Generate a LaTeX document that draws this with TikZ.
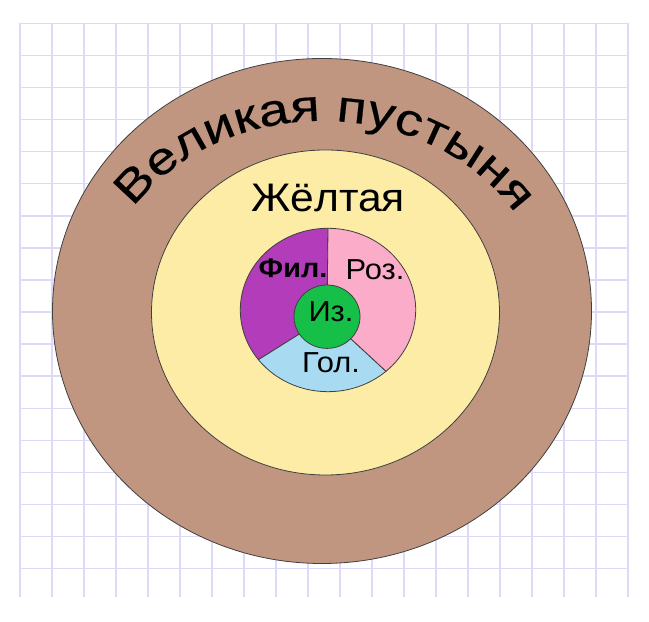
\documentclass[tikz,border=0pt]{standalone}
\usepackage{fontspec}
\setmainfont{Liberation Sans}
\newfontfamily\desertfamily[FakeStretch=1.22, FakeBold=0.4]{Liberation Sans}
\usetikzlibrary{calc, decorations.text}
\definecolor{gridblue}{RGB}{220,218,248}
\definecolor{desert}{RGB}{192,150,128}
\definecolor{yellowzone}{RGB}{253,236,166}
\definecolor{violetzone}{RGB}{178,60,186}
\definecolor{pinkzone}{RGB}{250,172,200}
\definecolor{bluezone}{RGB}{168,218,242}
\definecolor{greenzone}{RGB}{22,192,72}
\newcommand\desertfont{\desertfamily\fontsize{45}{50}\selectfont}
\tikzset{
  gridline/.style={draw=gridblue, line width=1.5bp},
  zone/.style={draw=black!75, line width=0.8bp},
  zonelabel/.style={font=\fontsize{29}{32}\selectfont, inner sep=0, xscale=1.07, anchor=base}
}

\begin{document}
\begin{tikzpicture}[x=1bp, y=1bp]
\useasboundingbox[fill=white] (0,0) rectangle (649,622);

% Grid paper
\foreach \i in {0,...,19}
  \draw[gridline] ({20+32*\i},25) -- ({20+32*\i},598.7);
\foreach \j in {0,...,17}
  \draw[gridline] (20,{598.7-32.08*\j}) -- (628,{598.7-32.08*\j});

% Centres
\coordinate (desertc) at (322,311);
\coordinate (yellowc) at (325.5,309.5);
\coordinate (innerc) at (328,312);
\coordinate (greenc) at (327,305.3);

% Outer zones
\draw[zone, fill=desert] (desertc) ellipse [x radius=269.5, y radius=252.5];
\draw[zone, fill=yellowzone] (yellowc) ellipse [x radius=174, y radius=162.5];

% Inner sectors
\coordinate (topcut) at ($(innerc)+(90:87.7 and 81.7)$);
\coordinate (leftcut) at ($(innerc)+(217.5:87.7 and 81.7)$);
\coordinate (rightcut) at ($(innerc)+(311.4:87.7 and 81.7)$);
\draw[zone, fill=violetzone] (greenc) -- (topcut) arc[start angle=90, end angle=217.5, x radius=87.7, y radius=81.7] -- cycle;
\draw[zone, fill=bluezone] (greenc) -- (leftcut) arc[start angle=217.5, end angle=311.4, x radius=87.7, y radius=81.7] -- cycle;
\draw[zone, fill=pinkzone] (greenc) -- (rightcut) arc[start angle=311.4, end angle=450, x radius=87.7, y radius=81.7] -- cycle;
\draw[zone, fill=greenzone] (greenc) ellipse [x radius=33, y radius=31.7];

% Curved title
\path[decorate, decoration={text along path, text align=fit to path,
    text={|\desertfont|Великая пустыня}}]
  (desertc) ++(147:225 and 190) arc[start angle=147, end angle=32, x radius=225, y radius=190];

% Labels
\node[zonelabel, font=\fontsize{40}{48}\selectfont] (yellow) at (328,410.3) {Жёлтая};
\node[zonelabel, font=\fontsize{27}{30}\selectfont\bfseries] (fil) at (293,344) {Фил.};
\node[zonelabel] (roz) at (375,342) {Роз.};
\node[zonelabel] (iz) at (331,300.3) {Из.};
\node[zonelabel] (gol) at (331,249) {Гол.};

\end{tikzpicture}
\end{document}
